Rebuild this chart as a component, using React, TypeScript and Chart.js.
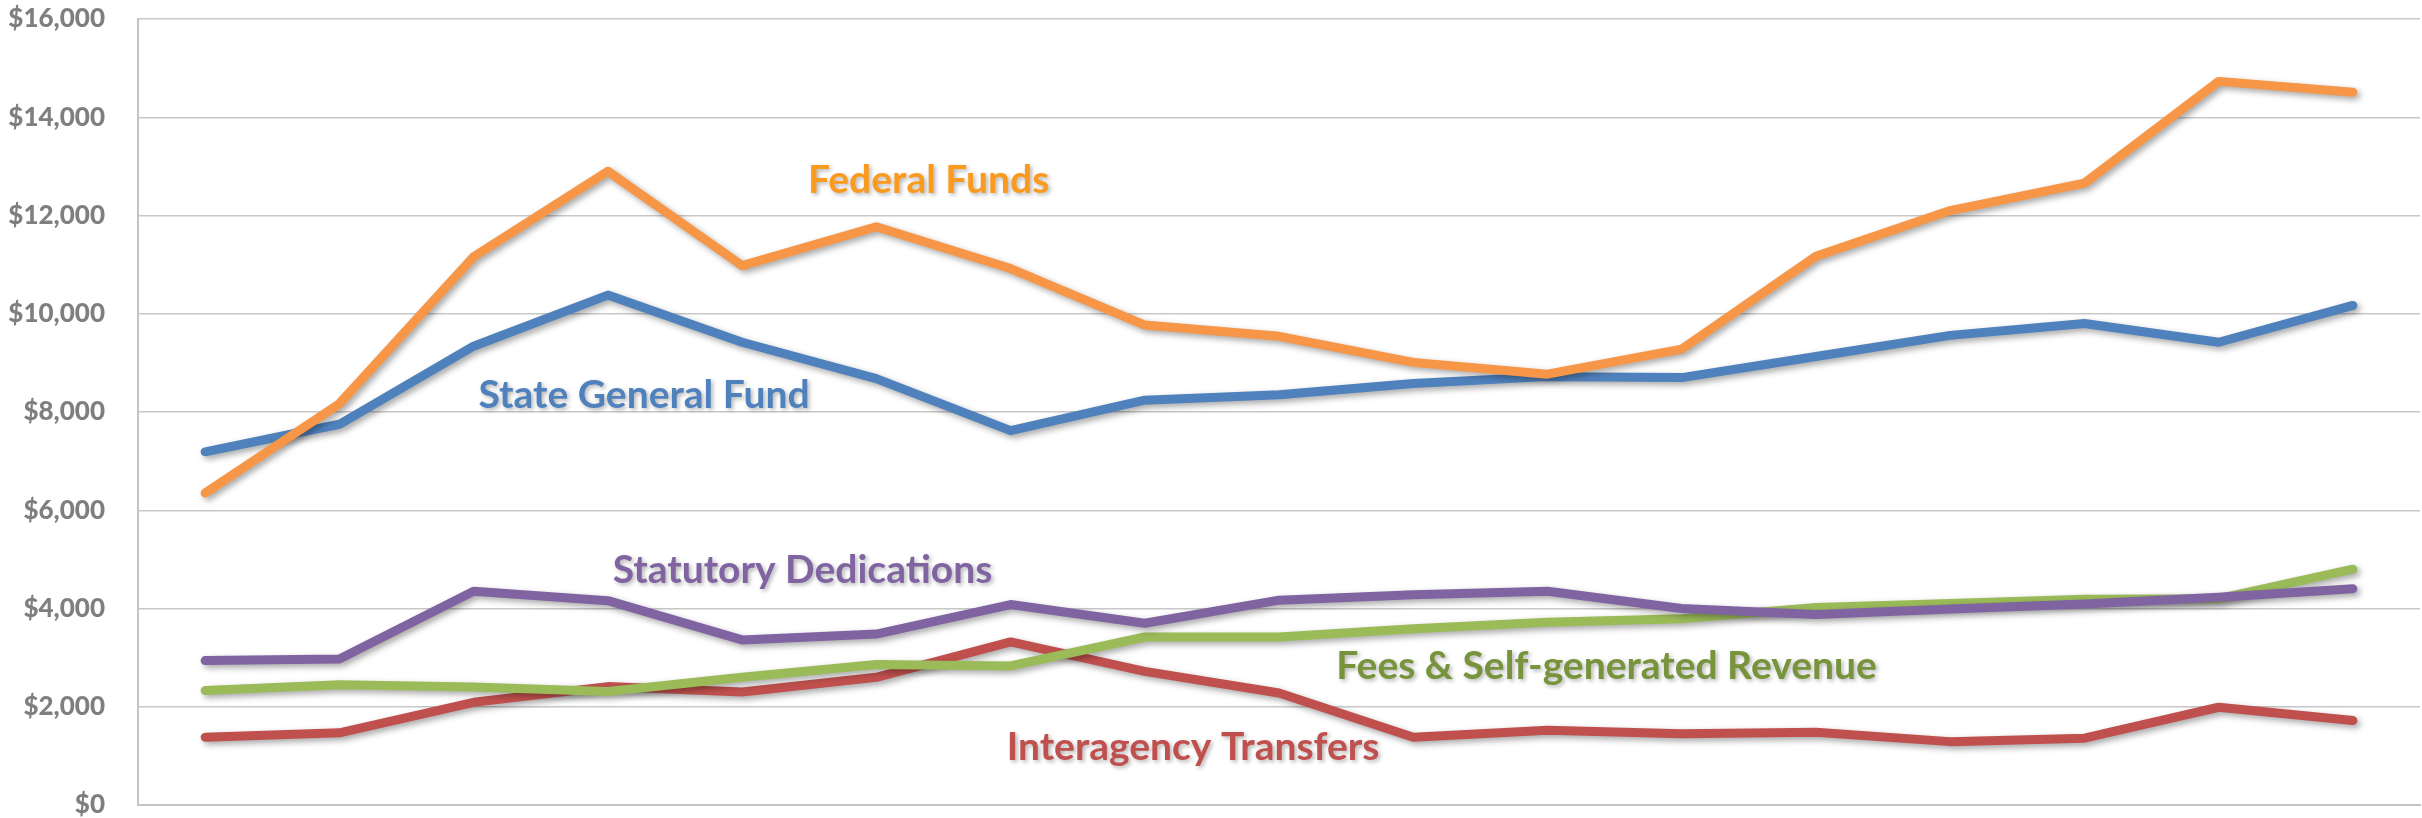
import React, { useEffect, useRef } from "react";
import { Chart, registerables } from "chart.js";

Chart.register(...registerables);

const categories = ["1","2","3","4","5","6","7","8","9","10","11","12","13","14","15","16","17"];

const federalFunds = [6350, 8170, 11160, 12900, 10980, 11770, 10920, 9770, 9540, 9010, 8770, 9280, 11170, 12100, 12660, 14730, 14510];
const stateGeneralFund = [7190, 7750, 9340, 10380, 9420, 8680, 7620, 8240, 8350, 8580, 8720, 8700, 9130, 9560, 9800, 9420, 10170];
const statutoryDedications = [2940, 2970, 4350, 4160, 3360, 3480, 4080, 3700, 4170, 4280, 4350, 4000, 3880, 3990, 4090, 4230, 4400];
const feesSelfGenerated = [2330, 2450, 2400, 2310, 2600, 2860, 2830, 3420, 3420, 3590, 3720, 3790, 4020, 4100, 4190, 4200, 4800];
const interagencyTransfers = [1380, 1470, 2090, 2410, 2300, 2600, 3320, 2720, 2280, 1380, 1520, 1450, 1480, 1290, 1360, 1990, 1720];

const yTicks = [0, 2000, 4000, 6000, 8000, 10000, 12000, 14000, 16000];

// series label annotations, anchored in data space (category index, value)
const labelTexts = ["Federal Funds", "State General Fund", "Statutory Dedications", "Fees & Self-generated Revenue", "Interagency Transfers"];
const labelIndex = [5.39, 3.27, 4.45, 10.44, 7.36];
const labelValue = [12460, 8080, 4520, 2560, 920];
const labelColors = ["#FA9A1E", "#4F81BD", "#8064A2", "#77933C", "#C0504D"];

const shadowPlugin = {
  id: "lineShadow",
  beforeDatasetDraw(chart: any) {
    const ctx = chart.ctx;
    ctx.save();
    ctx.shadowColor = "rgba(0,0,0,0.35)";
    ctx.shadowBlur = 6;
    ctx.shadowOffsetX = 3;
    ctx.shadowOffsetY = 3;
  },
  afterDatasetDraw(chart: any) {
    chart.ctx.restore();
  },
};

const labelPlugin = {
  id: "seriesLabels",
  afterDatasetsDraw(chart: any) {
    const ctx = chart.ctx;
    const xs = chart.scales.x;
    const ys = chart.scales.y;
    ctx.save();
    ctx.font = "bold 39px Lato";
    ctx.textAlign = "center";
    ctx.textBaseline = "alphabetic";
    ctx.shadowColor = "rgba(0,0,0,0.3)";
    ctx.shadowBlur = 4;
    ctx.shadowOffsetX = 2;
    ctx.shadowOffsetY = 2;
    for (let i = 0; i < labelTexts.length; i++) {
      const x = xs.getPixelForValue(labelIndex[i]);
      const y = ys.getPixelForValue(labelValue[i]);
      ctx.fillStyle = labelColors[i];
      ctx.fillText(labelTexts[i], x, y);
    }
    ctx.restore();
  },
};

export default function App() {
  const ref = useRef<HTMLCanvasElement | null>(null);

  useEffect(() => {
    document.body.style.margin = "0";
    const canvas = ref.current;
    if (!canvas) return;
    const mk = (label: string, data: number[], color: string) => ({
      label,
      data,
      borderColor: color,
      backgroundColor: color,
      borderWidth: 9,
      pointRadius: 0,
      pointHoverRadius: 0,
      tension: 0,
      borderCapStyle: "round" as const,
      borderJoinStyle: "round" as const,
      fill: false,
    });
    const chart = new Chart(canvas, {
      type: "line",
      data: {
        labels: categories,
        datasets: [
          mk("Federal Funds", federalFunds, "#F79646"),
          mk("Statutory Dedications", statutoryDedications, "#8064A2"),
          mk("Fees & Self-generated Revenue", feesSelfGenerated, "#9BBB59"),
          mk("Interagency Transfers", interagencyTransfers, "#C0504D"),
          mk("State General Fund", stateGeneralFund, "#4F81BD"),
        ],
      },
      options: {
        responsive: false,
        animation: false,
        devicePixelRatio: 1,
        layout: { padding: { top: 19, right: 2, left: 0, bottom: 0 } },
        plugins: {
          legend: { display: false },
          tooltip: { enabled: false },
          title: { display: false },
        },
        scales: {
          x: {
            type: "category",
            offset: true,
            grid: { display: false, drawTicks: false },
            border: { display: true, color: "#C4C4C4", width: 2 },
            ticks: { display: false },
            afterFit(scale: any) {
              scale.height = 13;
            },
          },
          y: {
            min: 0,
            max: 16000,
            afterBuildTicks(scale: any) {
              scale.ticks = yTicks.map((v) => ({ value: v }));
            },
            grid: {
              color: "#C8C8C8",
              lineWidth: 1.5,
              drawTicks: true,
              tickLength: 33,
              tickColor: "rgba(0,0,0,0)",
            },
            border: { display: true, color: "#C4C4C4", width: 2 },
            ticks: {
              padding: 0,
              color: "#7F7F7F",
              font: { family: "Lato", weight: "900", size: 26, lineHeight: 1.0 },
              callback: (v: any) => "$" + Number(v).toLocaleString("en-US"),
            },
            afterFit(scale: any) {
              scale.width = 138;
            },
          },
        },
      },
      plugins: [shadowPlugin, labelPlugin],
    });
    return () => chart.destroy();
  }, []);

  return (
    <div style={{ width: 2422, height: 818 }}>
      <canvas ref={ref} width={2422} height={818} style={{ display: "block" }} />
    </div>
  );
}
